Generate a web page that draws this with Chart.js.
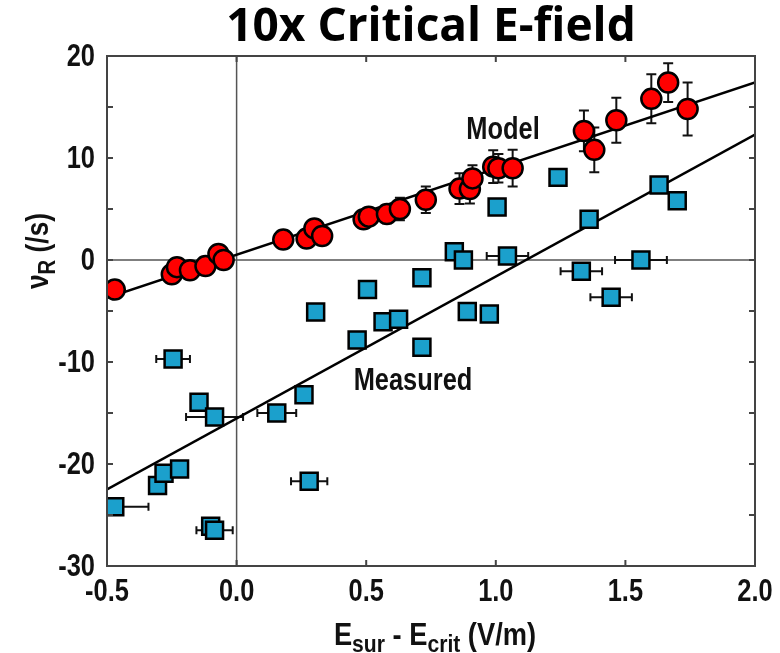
<!DOCTYPE html>
<html lang="en">
<head>
<meta charset="UTF-8" />
<title>10x Critical E-field</title>
<script src="https://cdn.jsdelivr.net/npm/chart.js"></script>
<style>
  body { margin: 0; background: #fff; }
  #wrap { width: 780px; height: 653px; position: relative; }
</style>
</head>
<body>
<div id="wrap"><canvas id="chart"></canvas></div>
<script>
  // Model points (red circles) with vertical error
  const modelX   = [-0.47, -0.25, -0.23, -0.18, -0.12, -0.07, -0.05, 0.18, 0.27, 0.30, 0.33, 0.49, 0.51, 0.58, 0.63, 0.73, 0.86, 0.90, 0.91, 0.99, 1.01, 1.065, 1.34, 1.38, 1.465, 1.60, 1.665, 1.74];
  const modelY   = [-2.9, -1.4, -0.7, -1.0, -0.6, 0.6, 0.0, 2.0, 2.1, 3.1, 2.35, 4.0, 4.25, 4.5, 5.0, 5.9, 7.0, 6.95, 8.0, 9.15, 9.0, 9.0, 12.65, 10.8, 13.7, 15.8, 17.4, 14.8];
  const modelErr = [0, 0, 0, 0, 0, 0, 0, 0, 0, 0, 0, 0, 0, 0.9, 1.1, 1.3, 1.5, 1.4, 1.3, 1.6, 1.4, 1.8, 2.0, 2.2, 2.2, 2.4, 1.9, 2.6];

  // Measured points (blue squares) with horizontal error
  const measX    = [1.24, 1.005, 1.36, 1.63, 1.70, 0.84, 0.875, 1.045, 1.33, 1.56, 1.445, 0.715, 0.505, 0.305, 0.465, 0.565, 0.625, 0.715, 0.89, 0.975, 0.26, 0.28, -0.245, -0.145, -0.085, 0.155, -0.305, -0.28, -0.22, -0.47, -0.10, -0.085];
  const measY    = [8.1, 5.2, 4.0, 7.35, 5.8, 0.8, 0.0, 0.4, -1.1, 0.0, -3.65, -1.75, -2.9, -5.1, -7.85, -6.05, -5.8, -8.55, -5.05, -5.3, -13.2, -21.7, -9.7, -13.95, -15.4, -15.0, -22.1, -20.9, -20.5, -24.2, -26.1, -26.5];
  const measXErr = [0, 0, 0, 0.03, 0, 0, 0, 0.08, 0.08, 0.1, 0.08, 0, 0, 0, 0, 0, 0, 0, 0, 0.03, 0, 0.07, 0.065, 0, 0.11, 0.075, 0, 0, 0, 0.13, 0, 0.07];

  // fitted lines (end points)
  const modelFitX = [-0.5, 2.0];
  const modelFitY = [-3.7, 17.4];
  const measFitX  = [-0.5, 2.0];
  const measFitY  = [-22.5, 12.3];

  const xTicks = [-0.5, 0, 0.5, 1.0, 1.5, 2.0];
  const yTicks = [-30, -25, -20, -15, -10, -5, 0, 5, 10, 15, 20];
  const yLabels = [-30, -20, -10, 0, 10, 20];

  const FONT = '"Liberation Sans", Arial, sans-serif';
  const SQUEEZE = 0.82; // the original uses a condensed Helvetica
  const pts = (xs, ys) => xs.map((v, i) => ({ x: v, y: ys[i] }));

  function narrowText(ctx, text, x, y, font, align) {
    ctx.save();
    ctx.font = font;
    ctx.textAlign = align;
    ctx.translate(x, y);
    ctx.scale(SQUEEZE, 1);
    ctx.fillText(text, 0, 0);
    ctx.restore();
  }

  // string of [text, isSub] parts, centred on cx
  function richText(ctx, parts, cx, cy, size, subSize, weight, squeeze) {
    let w = 0;
    parts.forEach(p => {
      ctx.font = `${weight} ${p[1] ? subSize : size}px ${FONT}`;
      w += ctx.measureText(p[0]).width;
    });
    ctx.save();
    ctx.translate(cx, cy);
    ctx.scale(squeeze, 1);
    ctx.textAlign = 'left';
    let x = -w / 2;
    parts.forEach(p => {
      ctx.font = `${weight} ${p[1] ? subSize : size}px ${FONT}`;
      ctx.fillText(p[0], x, p[1] ? size * 0.24 : 0);
      x += ctx.measureText(p[0]).width;
    });
    ctx.restore();
  }

  const frame = {
    id: 'frame',
    beforeDatasetsDraw(chart) {
      const { ctx, chartArea: a, scales: { x, y } } = chart;
      ctx.save();
      ctx.beginPath();
      ctx.rect(a.left, a.top, a.right - a.left, a.bottom - a.top);
      ctx.clip();

      // zero lines
      ctx.strokeStyle = '#555';
      ctx.lineWidth = 1.5;
      const x0 = x.getPixelForValue(0), y0 = y.getPixelForValue(0);
      ctx.beginPath();
      ctx.moveTo(x0, a.top); ctx.lineTo(x0, a.bottom);
      ctx.moveTo(a.left, y0); ctx.lineTo(a.right, y0);
      ctx.stroke();

      // error bars
      ctx.strokeStyle = '#111';
      ctx.lineWidth = 2;
      ctx.beginPath();
      modelX.forEach((v, i) => {
        if (!modelErr[i]) return;
        const px = x.getPixelForValue(v);
        const t = y.getPixelForValue(modelY[i] + modelErr[i]);
        const b = y.getPixelForValue(modelY[i] - modelErr[i]);
        ctx.moveTo(px, t); ctx.lineTo(px, b);
        ctx.moveTo(px - 5, t); ctx.lineTo(px + 5, t);
        ctx.moveTo(px - 5, b); ctx.lineTo(px + 5, b);
      });
      measX.forEach((v, i) => {
        if (!measXErr[i]) return;
        const py = y.getPixelForValue(measY[i]);
        const l = x.getPixelForValue(v - measXErr[i]);
        const r = x.getPixelForValue(v + measXErr[i]);
        ctx.moveTo(l, py); ctx.lineTo(r, py);
        ctx.moveTo(l, py - 4); ctx.lineTo(l, py + 4);
        ctx.moveTo(r, py - 4); ctx.lineTo(r, py + 4);
      });
      ctx.stroke();
      ctx.restore();
    },
    afterDraw(chart) {
      const { ctx, chartArea: a, scales: { x, y } } = chart;
      ctx.save();
      // frame + inward ticks
      ctx.strokeStyle = '#444';
      ctx.lineWidth = 2;
      ctx.strokeRect(a.left, a.top, a.right - a.left, a.bottom - a.top);
      ctx.beginPath();
      xTicks.forEach(v => {
        const px = x.getPixelForValue(v);
        ctx.moveTo(px, a.top); ctx.lineTo(px, a.top + 6);
        ctx.moveTo(px, a.bottom); ctx.lineTo(px, a.bottom - 6);
      });
      yTicks.forEach(v => {
        const py = y.getPixelForValue(v);
        ctx.moveTo(a.left, py); ctx.lineTo(a.left + 6, py);
        ctx.moveTo(a.right, py); ctx.lineTo(a.right - 6, py);
      });
      ctx.stroke();

      // tick labels (condensed)
      ctx.fillStyle = '#111';
      ctx.textBaseline = 'middle';
      const tickFont = `bold 31px ${FONT}`;
      xTicks.forEach(v => narrowText(ctx, v.toFixed(1), x.getPixelForValue(v), a.bottom + 26, tickFont, 'center'));
      yLabels.forEach(v => narrowText(ctx, String(v), a.left - 12, y.getPixelForValue(v) + 1, tickFont, 'right'));

      // labels inside the plot
      narrowText(ctx, 'Model', 503, 130, `bold 31px ${FONT}`, 'center');
      narrowText(ctx, 'Measured', 413, 381, `bold 31px ${FONT}`, 'center');

      // axis titles with subscripts
      ctx.textBaseline = 'alphabetic';
      richText(ctx, [['E', false], ['sur', true], [' - E', false], ['crit', true], [' (V/m)', false]],
        435, 645, 31, 24, 'bold', 0.88);

      ctx.translate(48, 251);
      ctx.rotate(-Math.PI / 2);
      richText(ctx, [['\u03bd', false], ['R', true], [' (/s)', false]], 0, 0, 31, 24, 'bold', 0.85);
      ctx.restore();
    }
  };

  new Chart(document.getElementById('chart'), {
    type: 'scatter',
    data: {
      datasets: [
        {
          label: 'Model',
          data: pts(modelX, modelY),
          pointStyle: 'circle',
          pointRadius: 10,
          backgroundColor: '#ff0000',
          borderColor: '#000',
          borderWidth: 2.5
        },
        {
          label: 'Measured',
          data: pts(measX, measY),
          pointStyle: 'rect',
          pointRadius: 12,
          backgroundColor: '#1ba0cc',
          borderColor: '#000',
          borderWidth: 2.5
        },
        {
          label: 'Model fit',
          data: pts(modelFitX, modelFitY),
          showLine: true,
          pointRadius: 0,
          borderColor: '#000',
          borderWidth: 2.5
        },
        {
          label: 'Measured fit',
          data: pts(measFitX, measFitY),
          showLine: true,
          pointRadius: 0,
          borderColor: '#000',
          borderWidth: 2.5
        }
      ]
    },
    options: {
      responsive: true,
      maintainAspectRatio: false,
      animation: false,
      layout: { padding: { right: 25 } },
      plugins: {
        legend: { display: false },
        tooltip: { enabled: false },
        title: {
          display: true,
          fullSize: false,
          text: '10x Critical E-field',
          color: '#000',
          font: { family: '"Open Sans", sans-serif', size: 46, weight: 'bold' },
          padding: { top: 0, bottom: 0.8 }
        }
      },
      scales: {
        x: {
          type: 'linear',
          min: -0.5,
          max: 2.0,
          afterBuildTicks: s => { s.ticks = xTicks.map(v => ({ value: v })); },
          afterFit: s => { s.height = 87; },
          grid: { display: false },
          border: { display: false },
          ticks: { display: false }
        },
        y: {
          type: 'linear',
          min: -30,
          max: 20,
          afterBuildTicks: s => { s.ticks = yTicks.map(v => ({ value: v })); },
          afterFit: s => { s.width = 107; },
          grid: { display: false },
          border: { display: false },
          ticks: { display: false }
        }
      }
    },
    plugins: [frame]
  });
</script>
</body>
</html>
